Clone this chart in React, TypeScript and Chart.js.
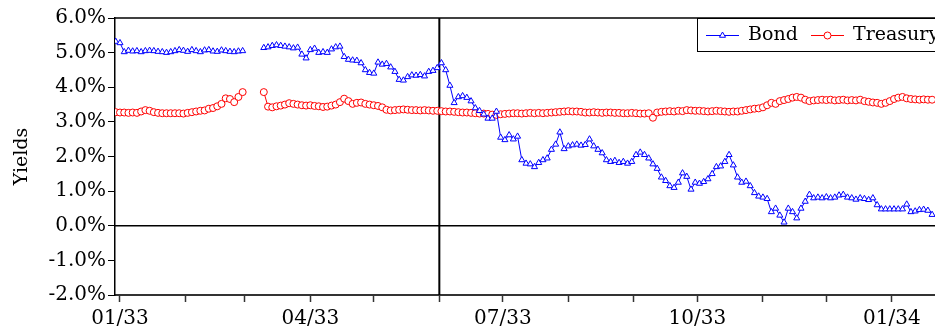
import React, { useEffect, useRef } from 'react';
import { Chart, registerables } from 'chart.js';

Chart.register(...registerables);

const FONT = "'DejaVu Serif', serif";

// Observations: every 2 days starting 30 Dec 1932 (day 0 = 1 Jan 1933)
const firstObsDay = -2;
const obsStepDays = 2;

// Bond yields (%), 15 observations per period
const bondP01 = [5.32, 5.28, 5.02, 5.06, 5.04, 5.05, 5.02, 5.05, 5.06, 5.05, 5.03, 5.02, 5.0, 5.02, 5.05];
const bondP02 = [5.08, 5.06, 5.03, 5.08, 5.05, 5.02, 5.07, 5.08, 5.04, 5.03, 5.07, 5.05, 5.03, 5.02, 5.04];
const bondP03 = [5.05, null, null, null, null, 5.14, 5.16, 5.2, 5.22, 5.2, 5.18, 5.16, 5.13, 5.15, 4.95];
const bondP04 = [4.84, 5.08, 5.12, 5.0, 5.02, 5.0, 5.1, 5.16, 5.18, 4.88, 4.8, 4.78, 4.77, 4.7, 4.5];
const bondP05 = [4.42, 4.4, 4.72, 4.66, 4.68, 4.58, 4.45, 4.22, 4.2, 4.3, 4.35, 4.34, 4.36, 4.32, 4.45];
const bondP06 = [4.48, 4.56, 4.7, 4.5, 4.05, 3.55, 3.72, 3.75, 3.7, 3.6, 3.4, 3.32, 3.22, 3.1, 3.1];
const bondP07 = [3.3, 2.55, 2.48, 2.62, 2.5, 2.58, 1.9, 1.8, 1.78, 1.7, 1.82, 1.9, 1.95, 2.2, 2.35];
const bondP08 = [2.7, 2.22, 2.3, 2.33, 2.35, 2.32, 2.34, 2.5, 2.3, 2.2, 2.1, 1.9, 1.85, 1.88, 1.82];
const bondP09 = [1.85, 1.8, 1.85, 2.05, 2.12, 2.05, 1.95, 1.78, 1.65, 1.4, 1.3, 1.15, 1.1, 1.25, 1.52];
const bondP10 = [1.42, 1.05, 1.25, 1.22, 1.27, 1.35, 1.5, 1.7, 1.72, 1.85, 2.05, 1.75, 1.4, 1.25, 1.28];
const bondP11 = [1.15, 0.95, 0.85, 0.82, 0.78, 0.4, 0.5, 0.3, 0.1, 0.5, 0.4, 0.22, 0.5, 0.7, 0.9];
const bondP12 = [0.8, 0.82, 0.8, 0.83, 0.8, 0.82, 0.88, 0.9, 0.82, 0.8, 0.76, 0.8, 0.78, 0.75, 0.8];
const bondP13 = [0.6, 0.48, 0.48, 0.48, 0.48, 0.48, 0.48, 0.62, 0.4, 0.42, 0.46, 0.47, 0.44, 0.32];

// Treasury yields (%)
const treasP01 = [3.28, 3.27, 3.27, 3.26, 3.27, 3.26, 3.3, 3.34, 3.32, 3.28, 3.26, 3.25, 3.25, 3.25, 3.25];
const treasP02 = [3.25, 3.24, 3.26, 3.28, 3.3, 3.32, 3.33, 3.38, 3.4, 3.45, 3.52, 3.68, 3.66, 3.57, 3.72];
const treasP03 = [3.86, null, null, null, null, 3.86, 3.44, 3.42, 3.45, 3.47, 3.5, 3.54, 3.52, 3.5, 3.48];
const treasP04 = [3.47, 3.48, 3.46, 3.45, 3.43, 3.44, 3.47, 3.5, 3.57, 3.67, 3.6, 3.52, 3.55, 3.56, 3.52];
const treasP05 = [3.5, 3.48, 3.46, 3.42, 3.35, 3.33, 3.34, 3.35, 3.36, 3.35, 3.34, 3.34, 3.33, 3.34, 3.33];
const treasP06 = [3.32, 3.32, 3.31, 3.3, 3.3, 3.29, 3.28, 3.27, 3.27, 3.26, 3.25, 3.24, 3.24, 3.23, 3.21];
const treasP07 = [3.2, 3.22, 3.23, 3.24, 3.25, 3.25, 3.24, 3.25, 3.26, 3.25, 3.26, 3.25, 3.26, 3.27, 3.28];
const treasP08 = [3.29, 3.3, 3.31, 3.3, 3.3, 3.29, 3.27, 3.27, 3.28, 3.27, 3.26, 3.27, 3.27, 3.26, 3.26];
const treasP09 = [3.25, 3.25, 3.26, 3.25, 3.24, 3.24, 3.25, 3.12, 3.27, 3.29, 3.3, 3.31, 3.3, 3.32, 3.31];
const treasP10 = [3.34, 3.33, 3.32, 3.32, 3.31, 3.3, 3.31, 3.32, 3.31, 3.3, 3.29, 3.3, 3.3, 3.32, 3.34];
const treasP11 = [3.36, 3.38, 3.39, 3.42, 3.48, 3.55, 3.52, 3.6, 3.63, 3.66, 3.7, 3.72, 3.7, 3.64, 3.6];
const treasP12 = [3.62, 3.63, 3.64, 3.63, 3.64, 3.62, 3.63, 3.64, 3.62, 3.63, 3.62, 3.64, 3.6, 3.58, 3.56];
const treasP13 = [3.55, 3.52, 3.55, 3.6, 3.66, 3.7, 3.72, 3.68, 3.66, 3.65, 3.64, 3.65, 3.64, 3.64];

// X axis: month starts (days from 1 Jan 1933) and their labels
const monthStartDays = [0, 31, 59, 90, 120, 151, 181, 212, 243, 273, 304, 334, 365];
const monthTickLabels = ['01/33', '', '', '04/33', '', '', '07/33', '', '', '10/33', '', '', '01/34'];
const xMinDay = -2.36;
const xMaxDay = 390.1;
const eventDay = 151; // 1 Jun 1933

// Y axis
const yTicks = [-2, -1, 0, 1, 2, 3, 4, 5, 6];

const seriesNames = ['Bond', 'Treasury'];
const bondValues = [
  ...bondP01, ...bondP02, ...bondP03, ...bondP04, ...bondP05, ...bondP06, ...bondP07,
  ...bondP08, ...bondP09, ...bondP10, ...bondP11, ...bondP12, ...bondP13,
];
const treasValues = [
  ...treasP01, ...treasP02, ...treasP03, ...treasP04, ...treasP05, ...treasP06, ...treasP07,
  ...treasP08, ...treasP09, ...treasP10, ...treasP11, ...treasP12, ...treasP13,
];

const toPoints = (vals: (number | null)[]) =>
  vals.map((v, k) => ({ x: firstObsDay + k * obsStepDays, y: v }));

const BLUE = '#0000ff';
const RED = '#ff0000';

function drawMarker(ctx: CanvasRenderingContext2D, style: string, x: number, y: number, r: number, color: string) {
  ctx.save();
  ctx.fillStyle = '#fff';
  ctx.strokeStyle = color;
  ctx.lineWidth = 1;
  ctx.beginPath();
  if (style === 'triangle') {
    let rad = 0;
    ctx.moveTo(x + Math.sin(rad) * r, y - Math.cos(rad) * r);
    rad += (2 * Math.PI) / 3;
    ctx.lineTo(x + Math.sin(rad) * r, y - Math.cos(rad) * r);
    rad += (2 * Math.PI) / 3;
    ctx.lineTo(x + Math.sin(rad) * r, y - Math.cos(rad) * r);
    ctx.closePath();
  } else {
    ctx.arc(x, y, r, 0, Math.PI * 2);
  }
  ctx.fill();
  ctx.stroke();
  ctx.restore();
}

const framePlugin = {
  id: 'frameLines',
  beforeDatasetsDraw(chart: any) {
    const { ctx, chartArea: a, scales } = chart;
    const x = scales.x;
    const y = scales.y;
    ctx.save();
    ctx.strokeStyle = '#000';
    // zero line
    const y0 = y.getPixelForValue(0);
    ctx.lineWidth = 1.5;
    ctx.beginPath();
    ctx.moveTo(a.left, y0);
    ctx.lineTo(a.right, y0);
    ctx.stroke();
    // event line
    const xe = x.getPixelForValue(eventDay);
    ctx.lineWidth = 2;
    ctx.beginPath();
    ctx.moveTo(xe, a.top);
    ctx.lineTo(xe, a.bottom);
    ctx.stroke();
    // top border
    ctx.lineWidth = 1.5;
    ctx.beginPath();
    ctx.moveTo(a.left, a.top);
    ctx.lineTo(a.right, a.top);
    ctx.stroke();
    ctx.restore();
  },
  afterDatasetsDraw(chart: any) {
    const { ctx, chartArea: a } = chart;
    const left = a.right - 248;
    const top = a.top;
    const h = 33;
    const midY = top + h / 2 + 1;
    ctx.save();
    ctx.fillStyle = '#fff';
    ctx.fillRect(left, top, 300, h);
    ctx.strokeStyle = '#000';
    ctx.lineWidth = 1;
    ctx.strokeRect(left + 0.5, top + 0.5, 300, h);
    const items = [
      { name: seriesNames[0], color: BLUE, style: 'triangle', r: 3.5, off: 9 },
      { name: seriesNames[1], color: RED, style: 'circle', r: 3.5, off: 114 },
    ];
    ctx.font = `19px ${FONT}`;
    ctx.textBaseline = 'middle';
    ctx.textAlign = 'left';
    for (const it of items) {
      const x0 = left + it.off;
      ctx.strokeStyle = it.color;
      ctx.lineWidth = 1;
      ctx.beginPath();
      ctx.moveTo(x0, midY);
      ctx.lineTo(x0 + 33, midY);
      ctx.stroke();
      drawMarker(ctx, it.style, x0 + 16.5, midY, it.r, it.color);
      ctx.fillStyle = '#000';
      ctx.fillText(it.name, x0 + 42, midY);
    }
    ctx.restore();
  },
};

export default function App() {
  const ref = useRef<HTMLCanvasElement | null>(null);
  useEffect(() => {
    if (!ref.current) return;
    const chart = new Chart(ref.current, {
      type: 'line',
      data: {
        datasets: [
          {
            label: seriesNames[0],
            data: toPoints(bondValues),
            borderColor: BLUE,
            backgroundColor: '#fff',
            borderWidth: 1,
            pointStyle: 'triangle',
            pointRadius: 3.5,
            pointBorderWidth: 1,
            pointBackgroundColor: '#fff',
            pointBorderColor: BLUE,
            spanGaps: false,
            tension: 0,
          },
          {
            label: seriesNames[1],
            data: toPoints(treasValues),
            borderColor: RED,
            backgroundColor: '#fff',
            borderWidth: 1,
            pointStyle: 'circle',
            pointRadius: 3.5,
            pointBorderWidth: 1,
            pointBackgroundColor: '#fff',
            pointBorderColor: RED,
            spanGaps: false,
            tension: 0,
          },
        ] as any,
      },
      options: {
        animation: false,
        responsive: false,
        devicePixelRatio: 1,
        layout: { autoPadding: false, padding: { top: 18, left: 0, right: 0, bottom: 0 } },
        plugins: { legend: { display: false }, tooltip: { enabled: false } },
        scales: {
          x: {
            type: 'linear',
            min: xMinDay,
            max: xMaxDay,
            afterBuildTicks: (s: any) => {
              s.ticks = monthStartDays.map((v) => ({ value: v }));
            },
            afterFit: (s: any) => {
              s.height = 34;
            },
            ticks: {
              autoSkip: false,
              maxRotation: 0,
              minRotation: 0,
              padding: 5,
              color: '#000',
              font: { family: FONT, size: 20 },
              callback: (v: any) => {
                const i = monthStartDays.indexOf(Number(v));
                return i >= 0 ? monthTickLabels[i] : '';
              },
            },
            grid: { drawOnChartArea: false, drawTicks: true, tickLength: 7, tickColor: '#333', tickWidth: 1.5 },
            border: { display: true, color: '#333', width: 2 },
          },
          y: {
            min: -2,
            max: 6,
            afterBuildTicks: (s: any) => {
              s.ticks = yTicks.map((v) => ({ value: v }));
            },
            afterFit: (s: any) => {
              s.width = 115;
            },
            ticks: {
              padding: 2,
              color: '#000',
              font: { family: FONT, size: 20 },
              callback: (v: any) => Number(v).toFixed(1) + '%',
            },
            grid: { drawOnChartArea: false, drawTicks: true, tickLength: 7, tickColor: '#000', tickWidth: 1 },
            border: { display: true, color: '#000', width: 1.5 },
            title: {
              display: true,
              text: 'Yields',
              color: '#000',
              font: { family: FONT, size: 19 },
              padding: { top: 11, bottom: 0 },
            },
          },
        },
      },
      plugins: [framePlugin],
    } as any);
    return () => chart.destroy();
  }, []);

  return (
    <div style={{ position: 'absolute', left: 0, top: 0, width: 935, height: 329, overflow: 'hidden', background: '#fff' }}>
      <canvas ref={ref} width={945} height={329} style={{ display: 'block', width: 945, height: 329 }} />
    </div>
  );
}
